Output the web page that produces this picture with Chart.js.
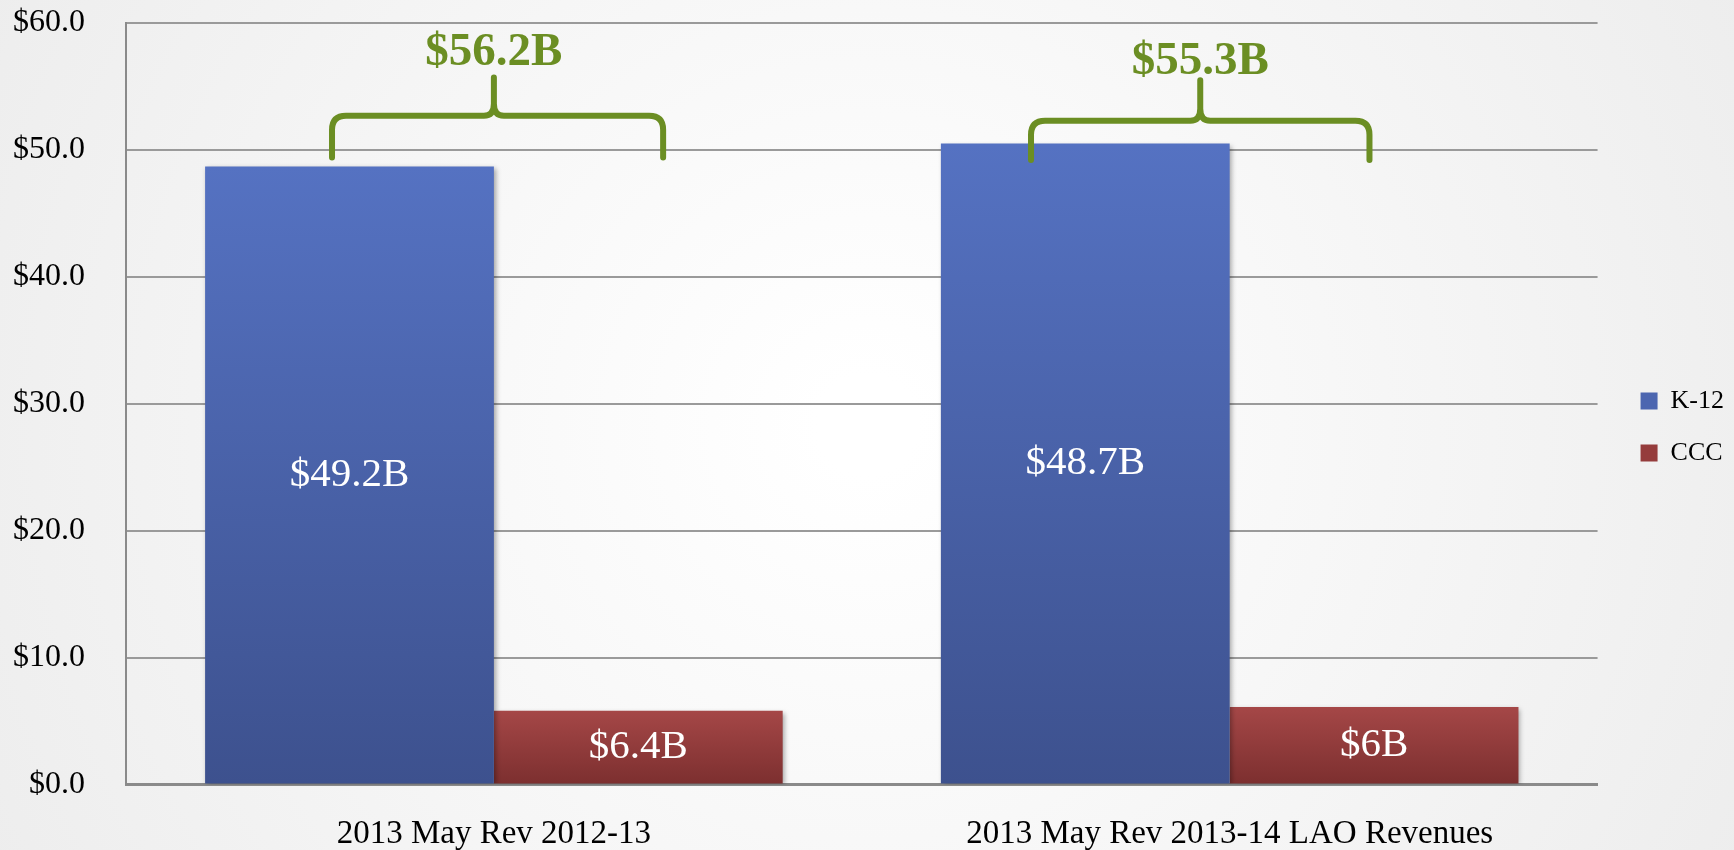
<!DOCTYPE html>
<html>
<head>
<meta charset="utf-8">
<script src="https://cdn.jsdelivr.net/npm/chart.js"></script>
<style>
  html, body { margin: 0; padding: 0; }
  #wrap { width: 1734px; height: 850px; position: relative; }
</style>
</head>
<body>
<div id="wrap"><canvas id="chart"></canvas></div>
<script>
// chart values
const categories = ['2013 May Rev 2012-13', '2013 May Rev 2013-14 LAO Revenues'];
const k12Values = [48.7, 50.5];
const cccValues = [5.8, 6.1];
// labels as typed on the bars (they don't match the bar heights exactly)
const k12Labels = ['$49.2B', '$48.7B'];
const cccLabels = ['$6.4B', '$6B'];
const totalLabels = ['$56.2B', '$55.3B'];
const yTicks = [0, 10, 20, 30, 40, 50, 60];

// brace over each group: x in category units (offset from centre), y in $B
const braceLeft = [-0.22, -0.27];
const braceRight = [0.23, 0.19];
const braceTip = [0.0, -0.04];
const braceEnds = [49.4, 49.2];
const braceBar = [52.7, 52.3];
const braceTop = [55.7, 55.5];
const totalY = [56.7, 56.0];

const GREEN = '#6b8e23';
const SERIF = '"Liberation Serif", "DejaVu Serif", serif';

// vertical gradient per bar, light at the top
const barGradient = (top, bottom, solid) => (ctx) => {
    const chart = ctx.chart;
    if (ctx.dataIndex === undefined || !chart.chartArea || !chart.scales.y) return solid;
    const y = chart.scales.y;
    const yTop = y.getPixelForValue(ctx.parsed.y);
    const yBase = y.getPixelForValue(0);
    if (!isFinite(yTop) || !isFinite(yBase)) return solid;
    const g = chart.ctx.createLinearGradient(0, yTop, 0, yBase);
    g.addColorStop(0, top);
    g.addColorStop(1, bottom);
    return g;
};

const backgroundPlugin = {
    id: 'pageBackground',
    beforeDraw: (chart) => {
        const { ctx, width, height } = chart;
        const g = ctx.createRadialGradient(width / 2, height / 2, 50, width / 2, height / 2, width * 0.6);
        g.addColorStop(0, '#ffffff');
        g.addColorStop(1, '#ececec');
        ctx.save();
        ctx.fillStyle = g;
        ctx.fillRect(0, 0, width, height);
        ctx.restore();
    }
};

const barShadowPlugin = {
    id: 'barShadow',
    beforeDatasetsDraw: (chart) => {
        const ctx = chart.ctx;
        ctx.save();
        ctx.shadowColor = 'rgba(0,0,0,0.35)';
        ctx.shadowBlur = 5;
        ctx.shadowOffsetX = 2;
        ctx.shadowOffsetY = 2;
    },
    afterDatasetsDraw: (chart) => {
        chart.ctx.restore();
    }
};

const labelsPlugin = {
    id: 'barLabels',
    afterDatasetsDraw: (chart) => {
        const ctx = chart.ctx;
        const xs = chart.scales.x, ys = chart.scales.y;
        ctx.save();
        // white value labels in the middle of each bar
        ctx.fillStyle = '#ffffff';
        ctx.font = `41px ${SERIF}`;
        ctx.textAlign = 'center';
        ctx.textBaseline = 'middle';
        [k12Labels, cccLabels].forEach((labels, di) => {
            chart.getDatasetMeta(di).data.forEach((bar, i) => {
                ctx.fillText(labels[i], bar.x, (bar.y + bar.base) / 2);
            });
        });

        // green braces with the totals
        const catW = xs.getPixelForValue(1) - xs.getPixelForValue(0);
        ctx.strokeStyle = GREEN;
        ctx.lineWidth = 6;
        ctx.lineCap = 'round';
        ctx.lineJoin = 'round';
        categories.forEach((c, i) => {
            const cx = xs.getPixelForValue(i);
            const xl = cx + braceLeft[i] * catW;
            const xr = cx + braceRight[i] * catW;
            const xt = cx + braceTip[i] * catW;
            const yEnd = ys.getPixelForValue(braceEnds[i]);
            const yBar = ys.getPixelForValue(braceBar[i]);
            const yTip = ys.getPixelForValue(braceTop[i]);
            const r = 14;
            ctx.beginPath();
            ctx.moveTo(xl, yEnd);
            ctx.lineTo(xl, yBar + r);
            ctx.quadraticCurveTo(xl, yBar, xl + r, yBar);
            ctx.lineTo(xt - 10, yBar);
            ctx.quadraticCurveTo(xt, yBar, xt, yBar - 12);
            ctx.lineTo(xt, yTip);
            ctx.moveTo(xt, yBar - 12);
            ctx.quadraticCurveTo(xt, yBar, xt + 10, yBar);
            ctx.lineTo(xr - r, yBar);
            ctx.quadraticCurveTo(xr, yBar, xr, yBar + r);
            ctx.lineTo(xr, yEnd);
            ctx.stroke();

            ctx.fillStyle = GREEN;
            ctx.font = `bold 47px ${SERIF}`;
            ctx.textBaseline = 'alphabetic';
            ctx.fillText(totalLabels[i], xt, ys.getPixelForValue(totalY[i]));
        });
        ctx.restore();
    }
};

new Chart(document.getElementById('chart'), {
    type: 'bar',
    data: {
        labels: categories,
        datasets: [{
            label: 'K-12',
            data: k12Values,
            backgroundColor: barGradient('#5572c2', '#3d518e', '#4c66b0'),
            borderWidth: 0,
        }, {
            label: 'CCC',
            data: cccValues,
            backgroundColor: barGradient('#a54747', '#7c2f2f', '#9a4040'),
            borderWidth: 0,
        }]
    },
    options: {
        responsive: true,
        maintainAspectRatio: false,
        animation: false,
        categoryPercentage: 0.785,
        barPercentage: 1.0,
        layout: {
            padding: { left: 13, right: 0, top: 0, bottom: -4 }
        },
        plugins: {
            legend: {
                position: 'right',
                labels: {
                    boxWidth: 17,
                    boxHeight: 17,
                    padding: 26,
                    color: '#000000',
                    font: { family: SERIF, size: 26 },
                    generateLabels: (chart) => [
                        { text: 'K-12', fillStyle: '#4c66b0', strokeStyle: '#4c66b0', lineWidth: 0, datasetIndex: 0 },
                        { text: 'CCC', fillStyle: '#953c3c', strokeStyle: '#953c3c', lineWidth: 0, datasetIndex: 1 },
                    ]
                }
            },
            tooltip: { enabled: false }
        },
        scales: {
            x: {
                grid: { display: true, drawOnChartArea: false, drawTicks: true, tickLength: 30, color: 'rgba(0,0,0,0)' },
                border: { display: true, color: '#8a8a8a', width: 3 },
                ticks: {
                    color: '#000000',
                    padding: 0,
                    font: { family: SERIF, size: 33 }
                }
            },
            y: {
                min: 0,
                max: 60,
                afterBuildTicks: (scale) => { scale.ticks = yTicks.map(v => ({ value: v })); },
                grid: { color: '#9a9a9a', lineWidth: 2, drawTicks: true, tickLength: 41, tickColor: 'rgba(0,0,0,0)' },
                border: { display: true, color: '#8a8a8a', width: 2 },
                ticks: {
                    color: '#000000',
                    padding: 0,
                    font: { family: SERIF, size: 32, lineHeight: 1.44 },
                    callback: (v) => '$' + Number(v).toFixed(1)
                }
            },
            // empty strip between the plot and the legend
            gap: {
                type: 'linear',
                position: 'right',
                display: true,
                grid: { display: false, drawTicks: false },
                border: { display: false },
                ticks: { display: false },
                afterFit: (scale) => { scale.width = 17; }
            }
        }
    },
    plugins: [backgroundPlugin, barShadowPlugin, labelsPlugin]
});
</script>
</body>
</html>
